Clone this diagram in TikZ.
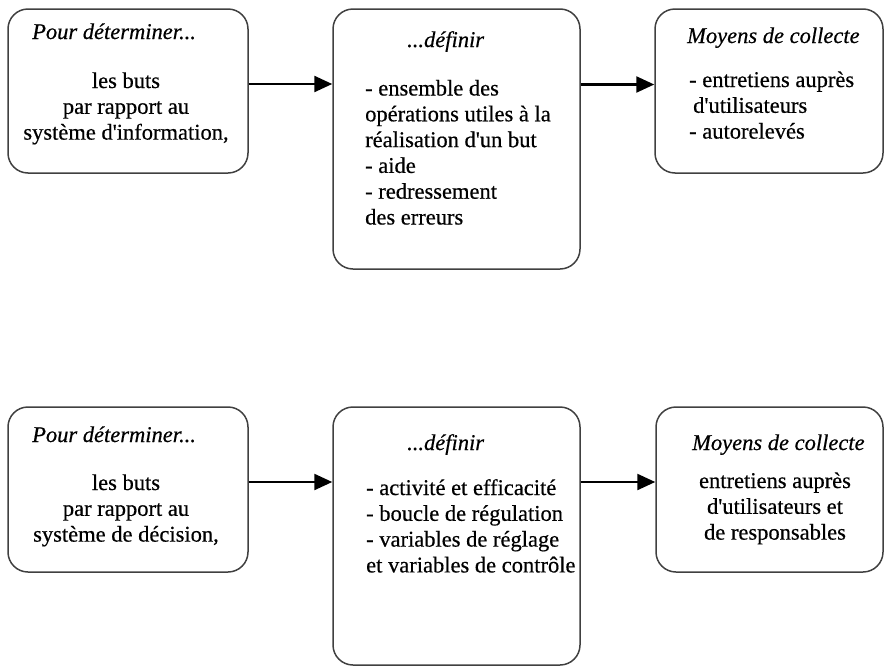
\documentclass[tikz,border=0pt]{standalone}
\usepackage{fontspec}
\setmainfont{Liberation Serif}[FakeBold=0.5]
\usetikzlibrary{arrows.meta}
\newcommand{\apos}{\textquotesingle}
\begin{document}
\begin{tikzpicture}[x=1pt,y=-1pt,
  box/.style={draw=black!75,line width=1.5pt,rounded corners=20pt,rectangle,inner sep=0pt},
  txt/.style={inner sep=0pt,font=\fontsize{22.5}{25.8}\selectfont},
  ttl/.style={txt,anchor=base west,font=\fontsize{22.5}{25.8}\selectfont\itshape},
  body/.style={txt,anchor=base west,align=left},
  cbody/.style={txt,anchor=base,align=center},
  arr/.style={line width=2.4pt,-{Triangle[length=18pt,width=16pt]}}]
\useasboundingbox (0,0) rectangle (884,667);
% top row
\node[box,minimum width=240pt,minimum height=164pt] (b1) at (128,91) {};
\node[box,minimum width=247pt,minimum height=260pt] (b2) at (456.5,139) {};
\node[box,minimum width=228pt,minimum height=164pt] (b3) at (769,91) {};
% bottom row
\node[box,minimum width=240pt,minimum height=165pt] (b4) at (128,489.5) {};
\node[box,minimum width=247pt,minimum height=258pt] (b5) at (456.5,536) {};
\node[box,minimum width=227pt,minimum height=165pt] (b6) at (769.5,489.5) {};
% texts top (anchor = baseline of the last line)
\node[ttl] (t1) at (32,39) {Pour déterminer...};
\node[cbody] (x1) at (126,139.6) {les buts\\par rapport au\\système d\apos information,};
\node[ttl] (t2) at (407,47) {...définir};
\node[body] (x2) at (365,224.5) {- ensemble des\\opérations utiles à la\\réalisation d\apos un but\\- aide\\- redressement\\des erreurs};
\node[ttl] (t3) at (687,43) {Moyens de collecte};
\node[body] (x3) at (689,138.6) {- entretiens auprès\\\hspace{4pt}d\apos utilisateurs\\- autorelevés};
% texts bottom
\node[ttl] (t4) at (32,442) {Pour déterminer...};
\node[cbody] (x4) at (126,541.6) {les buts\\par rapport au\\système de décision,};
\node[ttl] (t5) at (407,450) {...définir};
\node[body] (x5) at (366,572.4) {- activité et efficacité\\- boucle de régulation\\- variables de réglage\\et variables de contrôle};
\node[ttl] (t6) at (692,450) {Moyens de collecte};
\node[cbody] (x6) at (775,539.6) {entretiens auprès\\d\apos utilisateurs et\\de responsables};
% arrows
\draw[arr] ([yshift=7pt]b1.east) -- ([yshift=7pt]b1.east -| b2.west);
\draw[arr] ([yshift=54.5pt]b2.east) -- ([yshift=54.5pt]b2.east -| b3.west);
\draw[arr] ([yshift=7.5pt]b4.east) -- ([yshift=7.5pt]b4.east -| b5.west);
\draw[arr] ([yshift=54pt]b5.east) -- ([yshift=54pt]b5.east -| b6.west);
\end{tikzpicture}
\end{document}
